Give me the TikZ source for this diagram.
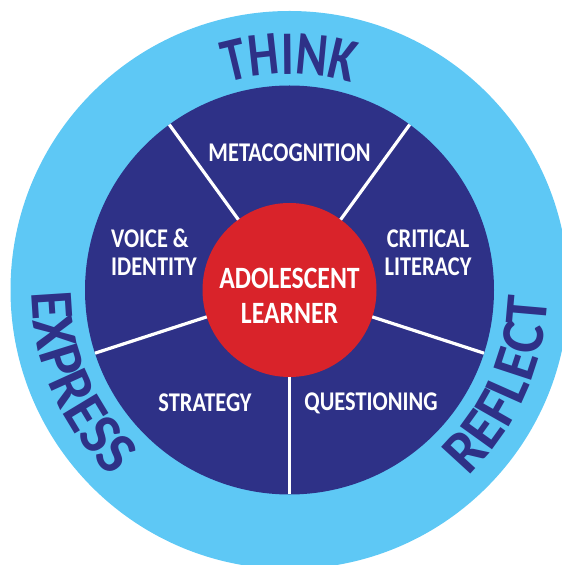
\documentclass[tikz,border=0pt]{standalone}
\usepackage{fontspec}
\setmainfont{Carlito}
\newfontfamily\segfont[FakeStretch=0.83]{Carlito}
\newfontfamily\thinkfont[FakeStretch=0.78]{Carlito}
\newfontfamily\wordfont[FakeStretch=0.95]{Carlito}
\usetikzlibrary{decorations.text}
\definecolor{ringblue}{RGB}{94,200,245}
\definecolor{navy}{RGB}{46,49,135}
\definecolor{learnerred}{RGB}{217,35,42}

\begin{document}
\begin{tikzpicture}[
  segtext/.style={text=white, font=\segfont\bfseries\fontsize{27}{28}\selectfont, align=center, inner sep=0pt},
  disc/.style={circle, inner sep=0pt, outer sep=0pt},
  divider/.style={white, line width=3.2pt},
  ringword/.style={decorate, decoration={text along path, text align=center, text color=navy, text={#1}}}
]
\def\rOuter{279pt}
\def\rInner{204.5pt}
\def\rLearner{87pt}

\useasboundingbox (0,0) rectangle (562pt,565pt);
\coordinate (c) at (289.5pt,275pt);

% rings
\node[disc, fill=ringblue, minimum size=2*\rOuter] (ring) at (c) {};
\node[disc, fill=navy, minimum size=2*\rInner] (inner) at (c) {};
\node[disc, fill=learnerred, minimum size=2*\rLearner] (learner) at (c) {};
\node[segtext, font=\segfont\bfseries\fontsize{31}{35}\selectfont] (learnertext) at (289.5pt,269pt) {ADOLESCENT\\LEARNER};

\foreach \a in {-90,-18,54,126,198}
  \draw[divider] (learner.\a) -- (inner.\a);

% segment labels
\node[segtext] (meta) at (289.5pt,412pt) {METACOGNITION};
\node[segtext, align=left, anchor=west] (voice) at (111pt,312.5pt) {VOICE \&\\IDENTITY};
\node[segtext] (critical) at (428pt,312.5pt) {CRITICAL\\LITERACY};
\node[segtext] (strategy) at (205pt,162pt) {STRATEGY};
\node[segtext] (questioning) at (371pt,162pt) {QUESTIONING};

% words round the ring
\path[ringword={|\thinkfont\bfseries\fontsize{62}{62}\selectfont|THINK}]
  (c) ++(125:216pt) arc[start angle=125, end angle=55, radius=216pt];
\path[ringword={|\wordfont\bfseries\fontsize{61}{61}\selectfont|EXPRESS}]
  (c) ++(165:258pt) arc[start angle=165, end angle=242, radius=258pt];
\path[ringword={|\wordfont\bfseries\fontsize{61}{61}\selectfont|REFLECT}]
  (c) ++(-62:258pt) arc[start angle=-62, end angle=14, radius=258pt];
\end{tikzpicture}
\end{document}
